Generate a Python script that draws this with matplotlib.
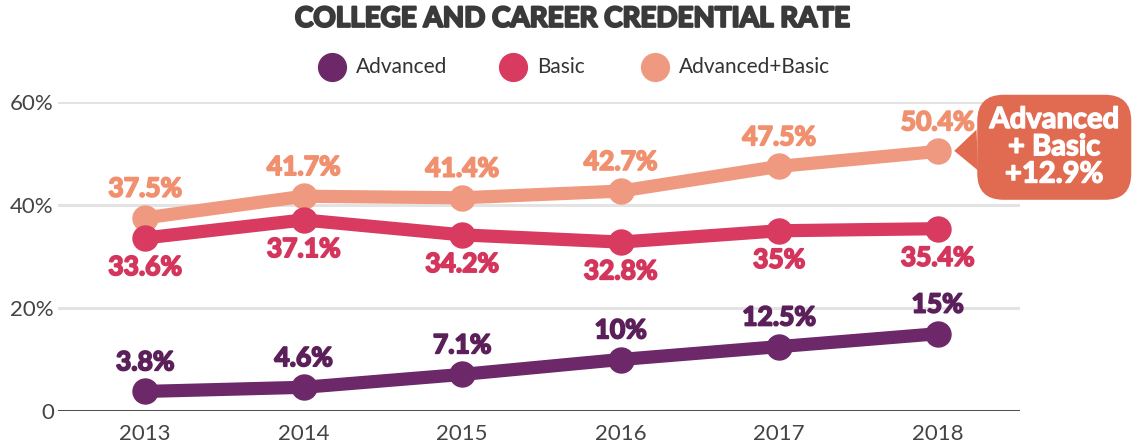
import matplotlib.pyplot as plt
import matplotlib.patheffects as pe
from matplotlib.lines import Line2D

plt.rcParams['font.family'] = ['Lato', 'DejaVu Sans']

years = [2013, 2014, 2015, 2016, 2017, 2018]
advanced = [3.8, 4.6, 7.1, 10.0, 12.5, 15.0]
basic = [33.6, 37.1, 34.2, 32.8, 35.0, 35.4]
adv_basic = [37.5, 41.7, 41.4, 42.7, 47.5, 50.4]
adv_labels = ['3.8%', '4.6%', '7.1%', '10%', '12.5%', '15%']
basic_labels = ['33.6%', '37.1%', '34.2%', '32.8%', '35%', '35.4%']
ab_labels = ['37.5%', '41.7%', '41.4%', '42.7%', '47.5%', '50.4%']
yticks = [0, 20, 40, 60]
ytick_labels = ['0', '20%', '40%', '60%']
legend_names = ['Advanced', 'Basic', 'Advanced+Basic']
callout_text = 'Advanced\n+ Basic\n+12.9%'

c_adv = '#6c2868'
c_basic = '#d83a60'
c_ab = '#ef9a80'
c_adv_txt = '#5b1f5a'
c_basic_txt = '#d4355c'
c_ab_txt = '#f0906f'
c_callout = '#e16b51'


def heavy(col, w=1.3):
    # thicken the bold glyphs a little, the original uses a very heavy face
    return [pe.withStroke(linewidth=w, foreground=col)]


fig = plt.figure(figsize=(11.45, 4.47), dpi=100)
ax = fig.add_axes([58 / 1145, 36 / 447, 962 / 1145, 309 / 447])

series = [
    (adv_basic, c_ab, c_ab_txt, ab_labels, 1),
    (basic, c_basic, c_basic_txt, basic_labels, -1),
    (advanced, c_adv, c_adv_txt, adv_labels, 1),
]
for vals, col, tcol, labs, side in series:
    ax.plot(years, vals, color=col, lw=9.5, marker='o', ms=18,
            solid_capstyle='round', zorder=3)
    for x, y, lab in zip(years, vals, labs):
        ax.annotate(lab, (x, y), xytext=(0, 21 * side), textcoords='offset points',
                    ha='center', va='center', fontsize=19, fontweight='bold',
                    color=tcol, zorder=4, path_effects=heavy(tcol))

# callout for the gain in Advanced+Basic
ax.annotate(callout_text, (years[-1], adv_basic[-1]), xytext=(84, 3),
            textcoords='offset points', ha='center', va='center',
            fontsize=21, fontweight='bold', color='white', linespacing=1.06,
            path_effects=heavy('white', 1.0),
            bbox=dict(boxstyle='round,pad=0.42,rounding_size=0.9', fc=c_callout, ec='none'),
            arrowprops=dict(arrowstyle='wedge,tail_width=1.4', fc=c_callout, ec='none',
                            shrinkA=0, shrinkB=12),
            annotation_clip=False, zorder=5)

ax.set_xlim(2012.45, 2018.52)
ax.set_ylim(0, 60)
ax.set_yticks(yticks)
ax.set_yticklabels(ytick_labels)
ax.set_xticks(years)
ax.tick_params(length=0, labelsize=16, labelcolor='#444444')
ax.tick_params(axis='x', pad=9)
ax.tick_params(axis='y', pad=3)
for sp in ax.spines.values():
    sp.set_visible(False)
for t in yticks[1:]:
    ax.axhline(t, color='#e3e3e3', lw=2.2, zorder=1)
ax.axhline(0, color='#3a3a3a', lw=2.0, zorder=1)

fig.text(0.5, 0.958, 'COLLEGE AND CAREER CREDENTIAL RATE', ha='center', va='center',
         fontsize=20, fontweight='bold', color='#3a3a3a', path_effects=heavy('#3a3a3a', 1.6))

# legend laid out by hand to keep the uneven spacing of the original
legend_x = [332 / 1145, 513 / 1145, 655 / 1145]
for lx, name, col in zip(legend_x, legend_names, (c_adv, c_basic, c_ab)):
    fig.add_artist(Line2D([lx], [0.85], ls='none', marker='o', ms=20, color=col,
                          transform=fig.transFigure))
    fig.text(lx + 24 / 1145, 0.85, name, ha='left', va='center', fontsize=15,
             color='#333333')

fig.savefig('out.png', dpi=100, facecolor='white')
